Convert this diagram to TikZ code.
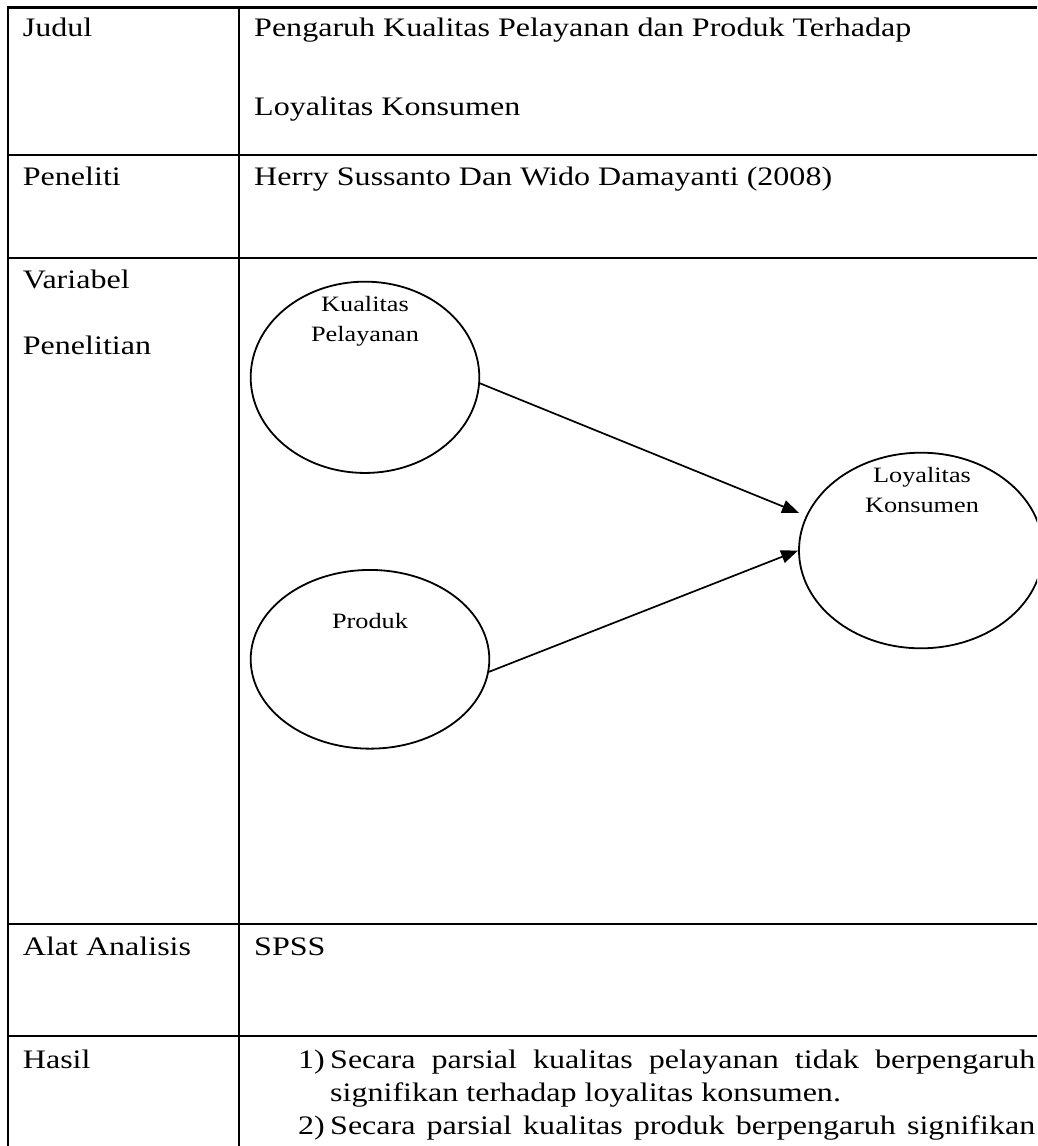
\documentclass[tikz,border=0pt]{standalone}
\usepackage{fontspec}
\setmainfont{Liberation Serif}[FakeStretch=1.2]
\usetikzlibrary{shapes.geometric,arrows.meta}

\begin{document}
\begin{tikzpicture}[x=1pt,y=-1pt,
  rule/.style={line width=2.4pt},
  cell/.style={anchor=base west,inner sep=0pt,font=\fontsize{26.7}{26.7}\selectfont},
  var/.style={ellipse,draw,line width=1.8pt,inner sep=0pt},
  vlabel/.style={anchor=base,inner sep=0pt,align=center,font=\fontsize{21.9}{30.5}\selectfont},
  link/.style={line width=1.7pt,-{Triangle[length=17pt,width=13pt]}}]
\clip (0,0) rectangle (1037,1146);

% table rules
\draw[rule] (1037,7.5) -- (8,7.5) -- (8,1146);
\draw[rule] (238.7,7.5) -- (238.7,1146);
\foreach \y in {155,258,924,1036} \draw[rule] (8,\y) -- (1037,\y);

% row labels
\node[cell] (judul) at (22.7,36.7) {Judul};
\node[cell] (peneliti) at (22.7,185) {Peneliti};
\node[cell] (variabel) at (22.7,288) {Variabel};
\node[cell] (penelitian) at (22.7,354) {Penelitian};
\node[cell] (alat) at (22.7,955) {Alat Analisis};
\node[cell] (hasil) at (22.7,1068) {Hasil};

% row contents
\node[cell] (judul1) at (254,36.7) {Pengaruh Kualitas Pelayanan dan Produk Terhadap};
\node[cell] (judul2) at (254,115) {Loyalitas Konsumen};
\node[cell] (nama) at (254,185) {Herry Sussanto Dan Wido Damayanti (2008)};
\node[cell] (spss) at (254,955) {SPSS};

\node[cell] (h1n) at (298,1068) {1)};
\node[cell] (h1) at (330,1068) {\makebox[705pt][s]{Secara parsial kualitas pelayanan tidak berpengaruh}};
\node[cell] (h1b) at (330,1101) {signifikan terhadap loyalitas konsumen.};
\node[cell] (h2n) at (298,1134) {2)};
\node[cell] (h2) at (330,1134) {\makebox[705pt][s]{Secara parsial kualitas produk berpengaruh signifikan}};

% research model
\node[var, minimum width=228.6pt, minimum height=191.3pt] (kp) at (365,377.3) {};
\node[var, minimum width=238.6pt, minimum height=178.7pt] (pr) at (370,659.3) {};
\node[var, minimum width=244pt, minimum height=195.6pt] (lk) at (921,550.5) {};

\node[vlabel] (kpt) at (365,341.7) {Kualitas\\Pelayanan};
\node[vlabel] (prt) at (370,628) {Produk};
\node[vlabel] (lkt) at (922,512.7) {Loyalitas\\Konsumen};

\draw[link] (kp.-3) -- ([xshift=1pt,yshift=37.5pt]lk.west);
\draw[link] (pr.-6) -- (lk.west);
\end{tikzpicture}
\end{document}
